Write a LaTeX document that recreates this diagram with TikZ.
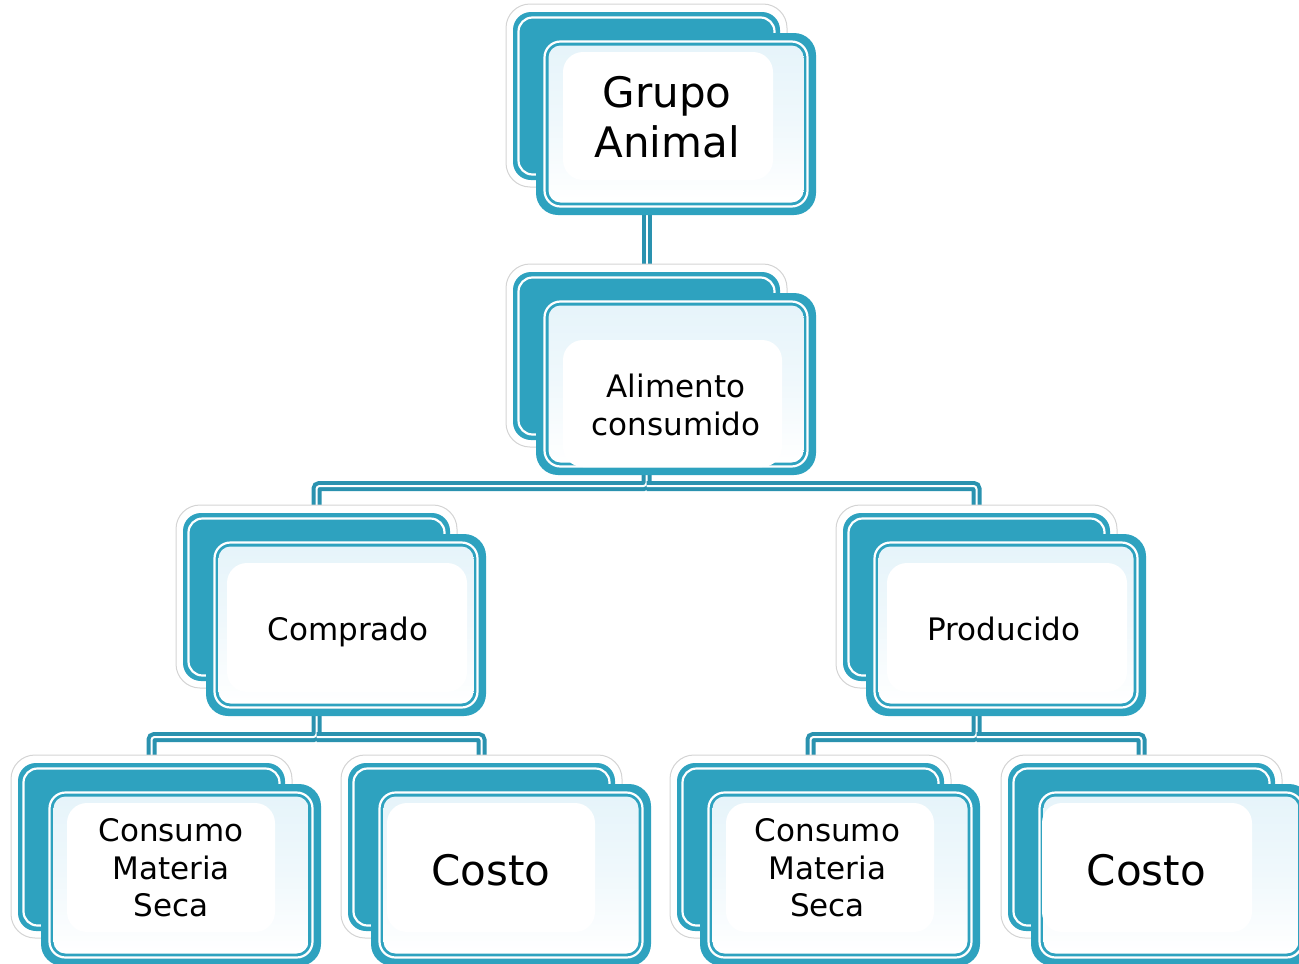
\documentclass[tikz,border=0pt]{standalone}
\usepackage{fontspec}
\setmainfont{DejaVu Sans}
\definecolor{teal1}{RGB}{46,162,191}
\definecolor{tealconn}{RGB}{42,146,175}
\definecolor{lightcard}{RGB}{230,244,250}
\definecolor{halogray}{RGB}{212,212,212}
\tikzset{
  halo/.style={draw=halogray, line width=1, fill=white, rounded corners=24},
  backcard/.style={fill=teal1, rounded corners=18},
  cardline/.style={draw=white, line width=2.2},
  frontcard/.style={fill=teal1, rounded corners=22},
  frontin/.style={top color=lightcard, bottom color=white, middle color=lightcard!60, rounded corners=12},
  innerwhite/.style={fill=white, rounded corners=20},
  conn/.style={draw=tealconn, line width=4, double=white, double distance=2, rounded corners=3},
  lbl/.style={text=black, inner sep=0, align=center},
}
\newcommand{\cardset}[2]{%
  \draw[halo] (#1-7,#2-8) rectangle (#1+274,#2+175);
  \fill[backcard] (#1,#2) rectangle (#1+267,#2+168);
  \draw[cardline, rounded corners=14] (#1+5.5,#2+5.5) rectangle (#1+261.5,#2+162.5);
  \fill[frontcard] (#1+23,#2+21) rectangle (#1+303,#2+203);
  \draw[cardline, rounded corners=16] (#1+31.5,#2+29.5) rectangle (#1+294.5,#2+194.5);
  \shade[frontin] (#1+35.5,#2+33.5) rectangle (#1+290.5,#2+190.5);
}
\begin{document}
\begin{tikzpicture}[x=1pt,y=-1pt]
\useasboundingbox (0,0) rectangle (1299,964);
\clip (0,0) rectangle (1299,964);
% connector anchor points (back-card centres)
\coordinate (b1) at (646.5,96);
\coordinate (b2) at (646.5,356);
\coordinate (b3) at (316.5,597);
\coordinate (b4) at (976.5,597);
\coordinate (b5) at (151.5,847);
\coordinate (b6) at (481.5,847);
\coordinate (b7) at (810.5,847);
\coordinate (b8) at (1141.5,847);
\coordinate (j2) at (646.5,486);
\coordinate (j3) at (316.5,737);
\coordinate (j4) at (976.5,737);
% connectors
\draw[conn] (b1) -- (b2);
\draw[conn] (b2) -- (j2) -| (b3);
\draw[conn] (j2) -| (b4);
\draw[conn] (b3) -- (j3) -| (b5);
\draw[conn] (j3) -| (b6);
\draw[conn] (b4) -- (j4) -| (b7);
\draw[conn] (j4) -| (b8);
% cards
\cardset{513}{12}
\fill[innerwhite] (563,52) rectangle (773,180);
\cardset{513}{272}
\fill[innerwhite] (563,340) rectangle (782,467);
\cardset{183}{513}
\fill[innerwhite] (227,563) rectangle (467,692);
\cardset{843}{513}
\fill[innerwhite] (887,563) rectangle (1127,692);
\cardset{18}{763}
\fill[innerwhite] (67,803) rectangle (275,932);
\cardset{348}{763}
\fill[innerwhite] (387,803) rectangle (595,932);
\cardset{677}{763}
\fill[innerwhite] (726,803) rectangle (934,932);
\cardset{1008}{763}
\fill[innerwhite] (1042,803) rectangle (1252,932);
% labels
\node[lbl, font=\fontsize{42}{50}\selectfont] (t1) at (667,117.3) {Grupo\\Animal};
\node[lbl, font=\fontsize{31}{37.5}\selectfont] (t2) at (676,404.7) {Alimento\\consumido};
\node[lbl, font=\fontsize{31}{37.5}\selectfont, anchor=base] (t3) at (348,640) {Comprado};
\node[lbl, font=\fontsize{31}{37.5}\selectfont, anchor=base] (t4) at (1004,640) {Producido};
\node[lbl, font=\fontsize{31}{37.5}\selectfont] (t5) at (171,868) {Consumo\\Materia\\Seca};
\node[lbl, font=\fontsize{42}{50}\selectfont, anchor=base] (t6) at (491,885) {Costo};
\node[lbl, font=\fontsize{31}{37.5}\selectfont] (t7) at (827.5,868) {Consumo\\Materia\\Seca};
\node[lbl, font=\fontsize{42}{50}\selectfont, anchor=base] (t8) at (1146.5,885) {Costo};
\end{tikzpicture}
\end{document}
